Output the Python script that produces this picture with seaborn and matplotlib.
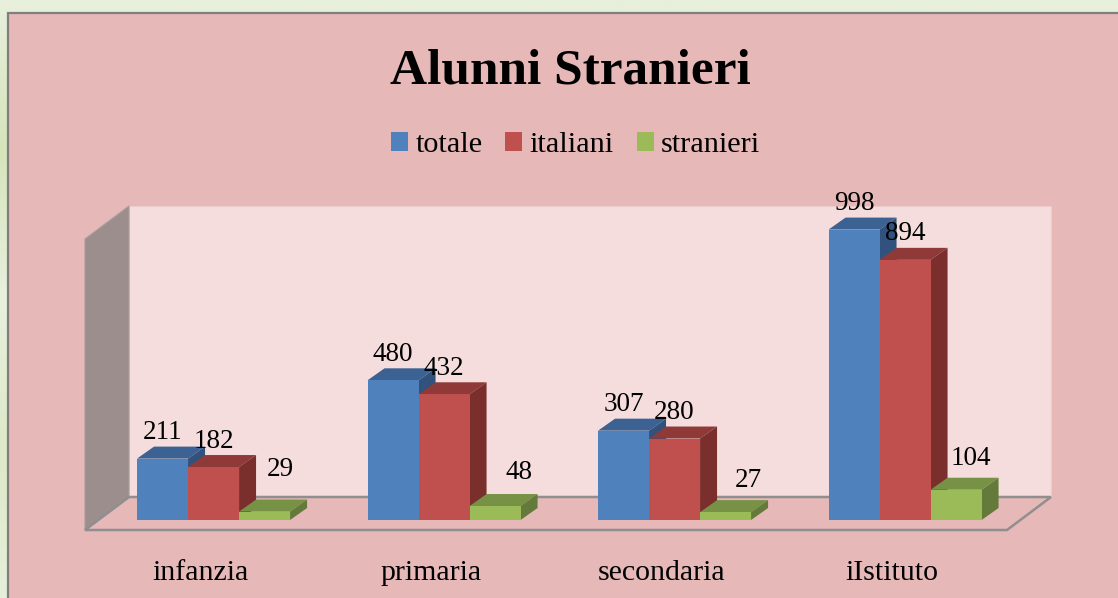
import matplotlib
matplotlib.use('Agg')
import matplotlib.pyplot as plt
from matplotlib.colors import LinearSegmentedColormap
from matplotlib.patches import Polygon, Rectangle
from matplotlib.transforms import Affine2D
import numpy as np
import pandas as pd
import seaborn as sns

categories = ['infanzia', 'primaria', 'secondaria', 'iIstituto']
series_names = ['totale', 'italiani', 'stranieri']
totale = [211, 480, 307, 998]
italiani = [182, 432, 280, 894]
stranieri = [29, 48, 27, 104]

front_colors = ['#4F81BD', '#C0504D', '#9BBB59']
top_colors = ['#3B6293', '#8F3A38', '#779145']
side_colors = ['#30527C', '#7A2F2D', '#647A3A']

SERIF = 'Liberation Serif'
PANEL = '#E6B8B7'

df = pd.DataFrame({'categoria': categories, 'totale': totale,
                   'italiani': italiani, 'stranieri': stranieri})
df = df.melt(id_vars='categoria', var_name='serie', value_name='alunni')

sns.set_theme(style='white')
plt.rcParams['font.family'] = SERIF
plt.rcParams['text.color'] = 'black'
plt.rcParams['xtick.color'] = 'black'

fig = plt.figure(figsize=(11.18, 5.98), dpi=100)

# background layer is in plain pixel coordinates, y going down
bg = fig.add_axes([0, 0, 1, 1], zorder=0)
green = LinearSegmentedColormap.from_list('g', ['#E8F0DC', '#D6E4BB', '#E8F1DD', '#DDE9C8', '#E6EFD9'])
bg.imshow(np.linspace(0, 1, 256).reshape(-1, 1), cmap=green, aspect='auto', extent=(0, 1118, 598, 0))
bg.add_patch(Rectangle((8, 13), 1130, 600, facecolor=PANEL, edgecolor='#7F7F7F', linewidth=1.6))

# back wall, side wall and floor of the 3d box
bg.add_patch(Polygon([(129, 206), (1051, 206), (1051, 497), (129, 497)], facecolor='#F5DDDD', edgecolor='#EBCDCD', linewidth=0.8))
bg.add_patch(Polygon([(85, 239), (129, 206), (129, 497), (85, 530)], facecolor='#9C8E8D', edgecolor='#A89C9B', linewidth=0.8))
bg.add_patch(Polygon([(85, 530), (1007, 530), (1051, 497), (129, 497)], facecolor=PANEL, edgecolor='#8F8F8F', linewidth=1.8))
bg.set_xlim(0, 1118)
bg.set_ylim(598, 0)
bg.axis('off')

bg.text(570, 72, 'Alunni Stranieri', fontsize=37, fontweight='bold', ha='center', va='center', color='black')

ax = fig.add_axes([98.3 / 1118, 78 / 598, 922 / 1118, 291 / 598], zorder=1)
ax.patch.set_alpha(0)
sns.barplot(data=df, x='categoria', y='alunni', hue='serie', order=categories, hue_order=series_names,
            palette=front_colors, saturation=1, width=0.664, gap=0, ax=ax)
ax.set_xlim(-0.5, 3.5)
ax.set_ylim(0, 1000)

# depth of the bars in data units
dx = 17 / 230.5
dy = 12 / 0.291

bars = []
for s, cont in enumerate(ax.containers):
    for g, bar in enumerate(cont):
        bars.append((bar.get_x(), s, g, bar))
bars.sort(key=lambda b: b[0])

for i, (x0, s, g, bar) in enumerate(bars):
    w = bar.get_width()
    h = bar.get_height()
    bar.set_zorder(3 + i * 3)
    bar.set_linewidth(0)
    ax.add_patch(Polygon([(x0, h), (x0 + w, h), (x0 + w + dx, h + dy), (x0 + dx, h + dy)],
                         facecolor=top_colors[s], edgecolor='none', clip_on=False, zorder=2 + i * 3))
    ax.add_patch(Polygon([(x0 + w, 0), (x0 + w + dx, dy), (x0 + w + dx, h + dy), (x0 + w, h)],
                         facecolor=side_colors[s], edgecolor='none', clip_on=False, zorder=2 + i * 3))

# labels of the short green bars sit further out, offsets in px
label_nudge = {0: (16, 42), 1: (24, 34), 2: (23, 32), 3: (15, 31)}
for x0, s, g, bar in bars:
    off = label_nudge[g] if s == 2 else (0, 26)
    ax.annotate(str(int(bar.get_height())), (x0 + bar.get_width() / 2, bar.get_height()),
                xytext=(off[0] / 100 * 72, off[1] / 100 * 72), textcoords='offset points',
                ha='center', va='center', fontsize=19.5, color='black', zorder=100, annotation_clip=False)

handles, labels = ax.get_legend_handles_labels()
if ax.get_legend():
    ax.get_legend().remove()
leg = bg.legend(handles, labels, loc='center', bbox_to_anchor=(575.5, 145), bbox_transform=bg.transData,
                ncol=3, frameon=False, borderpad=0, borderaxespad=0,
                handlelength=0.57, handleheight=0.57, handletextpad=0.24, columnspacing=0.75,
                prop={'family': SERIF, 'size': 21.8})
for h in leg.get_patches():
    h.set_linewidth(0)

ax.set_xlabel('')
ax.set_ylabel('')
ax.set_yticks([])
ax.tick_params(axis='x', length=0, pad=28.5, labelsize=21.5)
for lab in ax.get_xticklabels():
    lab.set_transform(lab.get_transform() + Affine2D().translate(-13, 0))
sns.despine(ax=ax, left=True, bottom=True)

fig.savefig('out.png', dpi=100)
